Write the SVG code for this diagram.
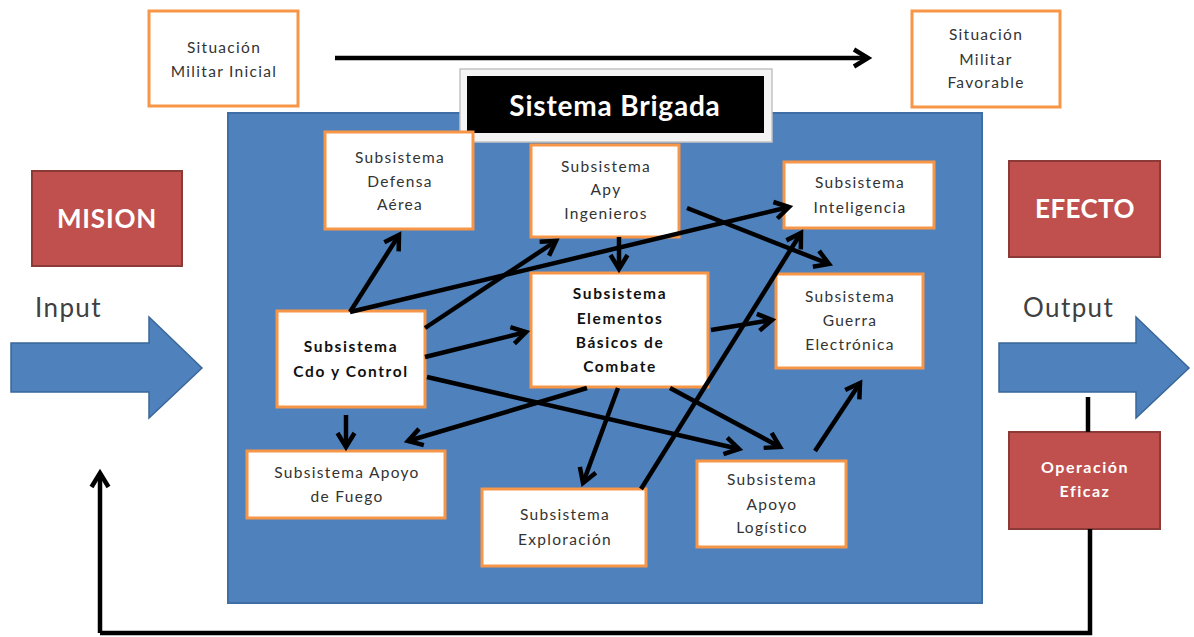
<svg xmlns="http://www.w3.org/2000/svg" width="1194" height="637" viewBox="0 0 1194 637">
  <style>
    .box{fill:#ffffff;stroke:#F79646;stroke-width:3}
    .red{fill:#C0504D;stroke:#8C3A38;stroke-width:2}
    .t{font-family:Lato,"Open Sans","Liberation Sans",sans-serif;font-size:15.5px;fill:#333333;letter-spacing:1.3px;text-anchor:middle}
    .tb{font-family:Lato,"Open Sans","Liberation Sans",sans-serif;font-size:15.5px;font-weight:bold;fill:#111111;letter-spacing:1.6px;text-anchor:middle}
    .tw{font-family:Lato,"Open Sans","Liberation Sans",sans-serif;font-weight:bold;fill:#ffffff;text-anchor:middle}
    .tio{font-family:Lato,"Open Sans","Liberation Sans",sans-serif;font-size:26px;fill:#404040;letter-spacing:1.4px}
    .conn{stroke:#000;stroke-width:4.5;fill:none;marker-end:url(#ah)}
    .line{stroke:#000;stroke-width:4.5;fill:none}
    .big{fill:#4F81BD;stroke:#3A6799;stroke-width:1.5}
  </style>
  <defs>
    <marker id="ah" viewBox="0 0 20 20" refX="17" refY="10" markerWidth="20" markerHeight="20" markerUnits="userSpaceOnUse" orient="auto" overflow="visible">
      <path d="M3,1.5 L17,10 L3,18.5" fill="none" stroke="#000" stroke-width="4.5"/>
    </marker>
  </defs>

  <rect width="1194" height="637" fill="#ffffff"/>

  <g id="sistema-brigada">
    <rect x="228" y="113" width="754" height="490" fill="#4F81BD" stroke="#3F6EA6" stroke-width="2"/>
  </g>

  <g id="titulo">
    <rect x="460" y="69" width="312" height="73" fill="#f4f4f4" stroke="#c4c4c4" stroke-width="1.5"/>
    <rect x="467" y="76" width="297" height="57" fill="#000000"/>
    <text x="615" y="116" class="tw" font-size="28" letter-spacing="0.8">Sistema Brigada</text>
  </g>

  <g id="sit-inicial">
    <rect class="box" x="149" y="11" width="149" height="95"/>
    <text class="t" x="224" y="53">Situación</text>
    <text class="t" x="224" y="77">Militar Inicial</text>
  </g>

  <g id="sit-favorable">
    <rect class="box" x="912" y="11" width="148" height="96"/>
    <text class="t" x="986" y="40">Situación</text>
    <text class="t" x="986" y="65">Militar</text>
    <text class="t" x="986" y="88">Favorable</text>
  </g>

  <g id="mision">
    <rect class="red" x="32" y="171" width="150" height="95"/>
    <text class="tw" x="107" y="228" font-size="26" letter-spacing="0.8">MISION</text>
  </g>

  <g id="efecto">
    <rect class="red" x="1009" y="161" width="151" height="96"/>
    <text class="tw" x="1085" y="218" font-size="26" letter-spacing="0.4">EFECTO</text>
  </g>

  <g id="input">
    <text class="tio" x="35" y="317">Input</text>
    <path class="big" d="M11,343 L149,343 L149,317 L202,368 L149,418 L149,392 L11,392 Z"/>
  </g>

  <g id="output">
    <text class="tio" x="1023" y="317">Output</text>
    <path class="big" d="M999,343 L1136,343 L1136,317 L1189,368 L1136,418 L1136,392 L999,392 Z"/>
  </g>

  <g id="operacion-eficaz">
    <rect class="red" x="1009" y="432" width="151" height="97"/>
    <text class="tw" x="1085" y="473" font-size="16" letter-spacing="1.5">Operación</text>
    <text class="tw" x="1085" y="497" font-size="16" letter-spacing="1.5">Eficaz</text>
  </g>

  <g id="defensa-aerea">
    <rect class="box" x="325" y="132" width="148" height="97"/>
    <text class="t" x="400" y="163">Subsistema</text>
    <text class="t" x="400" y="187">Defensa</text>
    <text class="t" x="400" y="210">Aérea</text>
  </g>

  <g id="apy-ingenieros">
    <rect class="box" x="531" y="145" width="148" height="92"/>
    <text class="t" x="606" y="172">Subsistema</text>
    <text class="t" x="606" y="195">Apy</text>
    <text class="t" x="606" y="219">Ingenieros</text>
  </g>

  <g id="inteligencia">
    <rect class="box" x="784" y="162" width="150" height="66"/>
    <text class="t" x="860" y="188">Subsistema</text>
    <text class="t" x="860" y="213">Inteligencia</text>
  </g>

  <g id="elementos-basicos">
    <rect class="box" x="531" y="273" width="177" height="114"/>
    <text class="tb" x="620" y="299">Subsistema</text>
    <text class="tb" x="620" y="324">Elementos</text>
    <text class="tb" x="620" y="348">Básicos de</text>
    <text class="tb" x="620" y="372">Combate</text>
  </g>

  <g id="guerra-electronica">
    <rect class="box" x="776" y="274" width="147" height="94"/>
    <text class="t" x="850" y="302">Subsistema</text>
    <text class="t" x="850" y="326">Guerra</text>
    <text class="t" x="850" y="350">Electrónica</text>
  </g>

  <g id="cdo-control">
    <rect class="box" x="277" y="311" width="148" height="96"/>
    <text class="tb" x="351" y="352">Subsistema</text>
    <text class="tb" x="351" y="377">Cdo y Control</text>
  </g>

  <g id="apoyo-fuego">
    <rect class="box" x="247" y="451" width="198" height="67"/>
    <text class="t" x="347" y="478">Subsistema Apoyo</text>
    <text class="t" x="347" y="502">de Fuego</text>
  </g>

  <g id="exploracion">
    <rect class="box" x="482" y="489" width="164" height="77"/>
    <text class="t" x="565" y="520">Subsistema</text>
    <text class="t" x="565" y="545">Exploración</text>
  </g>

  <g id="apoyo-logistico">
    <rect class="box" x="697" y="461" width="149" height="86"/>
    <text class="t" x="772" y="485">Subsistema</text>
    <text class="t" x="772" y="510">Apoyo</text>
    <text class="t" x="772" y="533">Logístico</text>
  </g>

  <g id="connectors">
    <line class="conn" x1="335" y1="58" x2="868" y2="58"/>
    <line class="conn" x1="350" y1="312" x2="399" y2="235"/>
    <line class="conn" x1="350" y1="312" x2="789" y2="207"/>
    <line class="conn" x1="425" y1="328" x2="556" y2="241"/>
    <line class="conn" x1="425" y1="357" x2="526" y2="332"/>
    <line class="conn" x1="427" y1="377" x2="739" y2="449"/>
    <line class="conn" x1="346" y1="415" x2="346" y2="447"/>
    <line class="conn" x1="587" y1="388" x2="408" y2="441"/>
    <line class="conn" x1="618" y1="388" x2="583" y2="483"/>
    <line class="conn" x1="670" y1="388" x2="780" y2="447"/>
    <line class="conn" x1="641" y1="489" x2="801" y2="233"/>
    <line class="conn" x1="687" y1="208" x2="829" y2="264"/>
    <line class="conn" x1="619" y1="237" x2="619" y2="269"/>
    <line class="conn" x1="711" y1="330" x2="772" y2="320"/>
    <line class="conn" x1="815" y1="451" x2="860" y2="383"/>
    <line class="line" x1="1088" y1="397" x2="1088" y2="432"/>
    <polyline class="line" points="1090,529 1090,633 100,633"/>
    <line class="conn" x1="100" y1="633" x2="100" y2="473"/>
  </g>
</svg>
